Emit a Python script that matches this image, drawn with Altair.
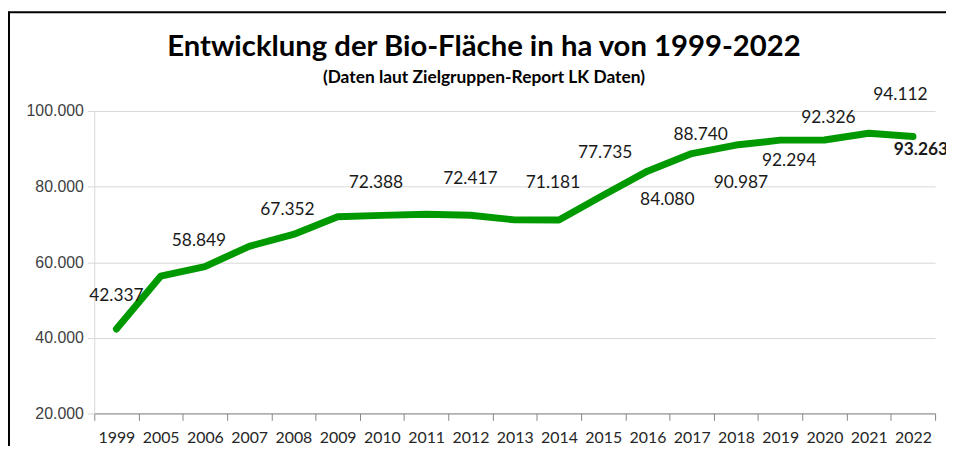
import altair as alt
import pandas as pd

years = ["1999", "2005", "2006", "2007", "2008", "2009", "2010", "2011", "2012", "2013",
         "2014", "2015", "2016", "2017", "2018", "2019", "2020", "2021", "2022"]
values = [42337, 56300, 58849, 64200, 67352, 72000, 72388, 72700, 72417, 71200,
          71181, 77735, 84080, 88740, 90987, 92294, 92326, 94112, 93263]
show_label = [True, False, True, False, True, False, True, False, True, False,
              True, True, True, True, True, True, True, True, True]
# label placement offsets (pixels) relative to the data point, as in the original chart
label_dx = [0, 0, -6, 0, -6, 0, -6, 0, 0, 0, -6, 2, 20, 9, 5, 9, 4, 32, 8]
label_dy = [-33, 0, -26, 0, -25, 0, -33, 0, -37, 0, -37, -42, 29, -19, 38, 21, -22, -39, 14]
bold_label = ["2022"]
y_ticks = [20000, 40000, 60000, 80000, 100000]

title_text = "Entwicklung der Bio-Fläche in ha von 1999-2022"
subtitle_text = "(Daten laut Zielgruppen-Report LK Daten)"

df = pd.DataFrame({"year": years, "value": values, "show": show_label,
                   "dx": label_dx, "dy": label_dy})

W, H = 848, 305
PAD_L, PAD_T = 87, 102

xenc = alt.X("year:N", sort=years, title=None,
             scale=alt.Scale(type="band", paddingInner=0, paddingOuter=0),
             bandPosition=0.5,
             axis=alt.Axis(labelAngle=0, tickBand="extent", domainColor="#868686",
                           tickColor="#868686", tickSize=7, labelFont="Lato",
                           labelFontSize=16, labelColor="#262626", labelPadding=9,
                           grid=False))
yenc = alt.Y("value:Q", title=None,
             scale=alt.Scale(domain=[20000, 100000], nice=False, zero=False),
             axis=alt.Axis(values=y_ticks, format=",.0f", grid=True, gridColor="#d9d9d9",
                           domainColor="#d9d9d9", tickColor="#d9d9d9", tickSize=7,
                           labelFont="Liberation Sans", labelFontSize=16,
                           labelColor="#404040", labelPadding=4))

base = alt.Chart(df)

line = base.mark_line(color="#009900", strokeWidth=7, strokeCap="round",
                      strokeJoin="round").encode(x=xenc, y=yenc)

label_layers = []
for yr, v, s, ddx, ddy in zip(years, values, show_label, label_dx, label_dy):
    if not s:
        continue
    label_layers.append(
        base.transform_filter(alt.datum.year == yr).mark_text(
            font="Lato", fontSize=17.5,
            fontWeight="bold" if yr in bold_label else "normal",
            color="#1a1a1a", align="center", baseline="middle", dx=ddx, dy=ddy,
        ).encode(
            x=alt.X("year:N", sort=years, bandPosition=0.5),
            y="value:Q",
            text=alt.Text("value:Q", format=",.0f"),
        )
    )

frame_df = pd.DataFrame({"title": [title_text], "subtitle": [subtitle_text]})
left_border = alt.Chart(frame_df).mark_rule(color="black", strokeWidth=2).encode(
    x=alt.value(-86), y=alt.value(-100), y2=alt.value(400))
top_border = alt.Chart(frame_df).mark_rule(color="black", strokeWidth=2).encode(
    x=alt.value(-87), x2=alt.value(900), y=alt.value(-99.5))
title_mark = alt.Chart(frame_df).mark_text(
    font="Lato", fontSize=29.5, fontWeight="bold", color="#000000",
    align="center", baseline="alphabetic").encode(
    x=alt.value(393), y=alt.value(-55), text="title:N")
subtitle_mark = alt.Chart(frame_df).mark_text(
    font="Lato", fontSize=17.5, fontWeight="bold", color="#000000",
    align="center", baseline="alphabetic").encode(
    x=alt.value(393), y=alt.value(-28), text="subtitle:N")

chart = alt.layer(line, *label_layers, left_border, top_border, title_mark,
                  subtitle_mark).properties(
    width=W, height=H,
    autosize=alt.AutoSizeParams(type="none"),
    padding={"left": PAD_L, "top": PAD_T, "right": 11, "bottom": 31},
).configure(
    locale={"number": {"decimal": ",", "thousands": ".", "grouping": [3],
                       "currency": ["", " €"]}},
).configure_view(stroke=None)

chart.save("out.html", embed_options={"renderer": "svg", "actions": False})
